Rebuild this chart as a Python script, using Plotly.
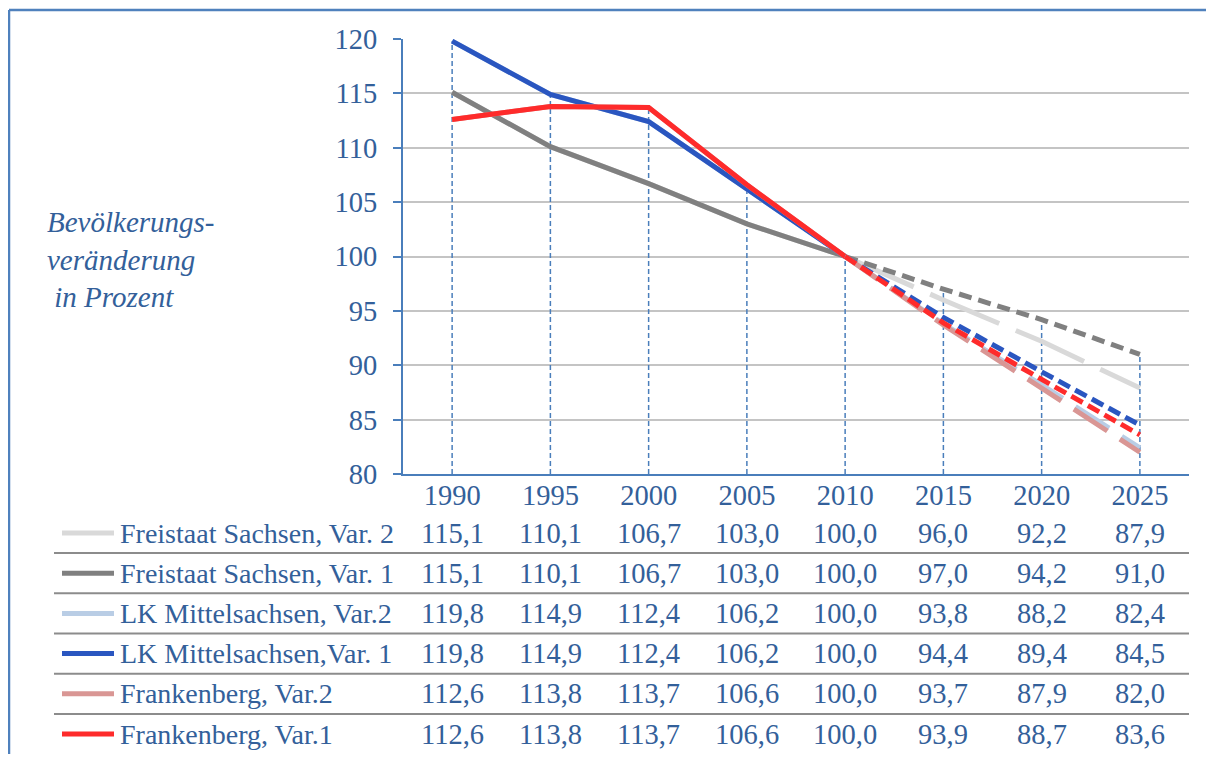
import plotly.graph_objects as go

# ---------------- data ----------------
years = [1990, 1995, 2000, 2005, 2010, 2015, 2020, 2025]
series_names = [
    "Freistaat Sachsen, Var. 2",
    "Freistaat Sachsen, Var. 1",
    "LK Mittelsachsen, Var.2",
    "LK Mittelsachsen,Var. 1",
    "Frankenberg, Var.2",
    "Frankenberg, Var.1",
]
sachsen_var2 = [115.1, 110.1, 106.7, 103.0, 100.0, 96.0, 92.2, 87.9]
sachsen_var1 = [115.1, 110.1, 106.7, 103.0, 100.0, 97.0, 94.2, 91.0]
mittel_var2 = [119.8, 114.9, 112.4, 106.2, 100.0, 93.8, 88.2, 82.4]
mittel_var1 = [119.8, 114.9, 112.4, 106.2, 100.0, 94.4, 89.4, 84.5]
franken_var2 = [112.6, 113.8, 113.7, 106.6, 100.0, 93.7, 87.9, 82.0]
franken_var1 = [112.6, 113.8, 113.7, 106.6, 100.0, 93.9, 88.7, 83.6]
y_ticks = [80, 85, 90, 95, 100, 105, 110, 115, 120]
y_title = "Bevölkerungs-<br>veränderung<br>\u00a0in Prozent"

series_values = [sachsen_var2, sachsen_var1, mittel_var2, mittel_var1, franken_var2, franken_var1]

# ---------------- styles ----------------
colors = ["#d9d9d9", "#808080", "#b9cde5", "#2a56c0", "#d99694", "#fe2b2b"]
dashes = ["75px,18px", "13px,7px", "40px,15px", "13px,6px", "40px,15px", "13px,6px"]
text_color = "#33609a"
axis_color = "#4a7ebb"
font_family = "Liberation Serif, Times New Roman, serif"
FS = 28.5
FS_LABEL = 28

# page geometry (the page body has an 8px margin)
OFF = 8
W, H = 1214 - 2 * OFF, 762 - 2 * OFF
PLOT_LEFT, PLOT_TOP, PLOT_RIGHT, PLOT_BOTTOM = 403, 39, 1189, 474
L, T = PLOT_LEFT - OFF, PLOT_TOP - OFF
pw, ph = PLOT_RIGHT - PLOT_LEFT, PLOT_BOTTOM - PLOT_TOP
R, B = W - L - pw, H - T - ph


def px_x(px):
    return (px - PLOT_LEFT) / pw


def px_y(py):
    return (PLOT_BOTTOM - py) / ph


fig = go.Figure()

# drop lines (from the axis up to the highest value of each year)
ymin = y_ticks[0]
dx, dy = [], []
for i, yr in enumerate(years):
    top = max(v[i] for v in series_values)
    dx += [yr, yr, None]
    dy += [ymin, top, None]
fig.add_trace(go.Scatter(x=dx, y=dy, mode="lines",
                         line=dict(color=axis_color, width=1.5, dash="5px,3px"),
                         hoverinfo="skip", showlegend=False))

# series: solid history (to 2010), dashed projection (from 2010)
for name, vals, col in zip(series_names, series_values, colors):
    fig.add_trace(go.Scatter(x=years[:5], y=vals[:5], mode="lines", name=name,
                             line=dict(color=col, width=5), showlegend=False))
for name, vals, col, dsh in zip(series_names, series_values, colors, dashes):
    fig.add_trace(go.Scatter(x=years[4:], y=vals[4:], mode="lines", name=name,
                             line=dict(color=col, width=5, dash=dsh), showlegend=False))

shapes = []
annotations = []

# outer frame: only the top and left edges are inside the picture
frame = dict(color="#4f81bd", width=2.5)
shapes.append(dict(type="line", xref="paper", yref="paper",
                   x0=px_x(9), x1=px_x(OFF + W), y0=px_y(10), y1=px_y(10), line=frame, layer="below"))
shapes.append(dict(type="line", xref="paper", yref="paper",
                   x0=px_x(9), x1=px_x(9), y0=px_y(10), y1=px_y(OFF + H), line=frame, layer="below"))

# data table
row0, row_h = 533, 40.2
for i, (name, vals, col) in enumerate(zip(series_names, series_values, colors)):
    cy = row0 + i * row_h
    shapes.append(dict(type="line", xref="paper", yref="paper",
                       x0=px_x(62), x1=px_x(114), y0=px_y(cy), y1=px_y(cy),
                       line=dict(color=col, width=5)))
    annotations.append(dict(text=name, xref="paper", yref="paper",
                            x=px_x(118), y=px_y(cy), xanchor="left", yanchor="middle",
                            showarrow=False, font=dict(size=FS_LABEL, color=text_color, family=font_family)))
    for yr, v in zip(years, vals):
        annotations.append(dict(text=f"{v:.1f}".replace(".", ","), xref="x", yref="paper",
                                x=yr, y=px_y(cy), xanchor="center", yanchor="middle",
                                showarrow=False, font=dict(size=FS, color=text_color, family=font_family)))
    if i < len(series_names) - 1:
        sy = cy + row_h / 2
        shapes.append(dict(type="line", xref="paper", yref="paper",
                           x0=px_x(54), x1=1.0, y0=px_y(sy), y1=px_y(sy),
                           line=dict(color="#8c8c8c", width=2)))

# y-axis title
annotations.append(dict(text=y_title, xref="paper", yref="paper",
                        x=px_x(45), y=px_y(259), xanchor="left", yanchor="middle", align="left",
                        showarrow=False,
                        font=dict(size=29, color=text_color, family=font_family, style="italic")))

fig.update_layout(
    width=W, height=H,
    margin=dict(l=L, r=R, t=T, b=B, pad=0),
    paper_bgcolor="white", plot_bgcolor="white",
    showlegend=False,
    shapes=shapes,
    annotations=annotations,
    xaxis=dict(range=[1987.5, 2027.5], tickvals=years, ticktext=[str(y) for y in years],
               showgrid=False, zeroline=False, showline=True, linecolor=axis_color, linewidth=2,
               ticks="", ticklabelstandoff=-5,
               tickfont=dict(size=FS, color=text_color, family=font_family)),
    yaxis=dict(range=[80, 120], tickvals=y_ticks, showgrid=True, gridcolor="#c4c4c4", gridwidth=2,
               zeroline=False, showline=True, linecolor=axis_color, linewidth=2,
               ticks="outside", ticklen=8, tickwidth=2, tickcolor=axis_color,
               ticklabelstandoff=10,
               tickfont=dict(size=FS, color=text_color, family=font_family)),
)

fig.write_html("out.html")
